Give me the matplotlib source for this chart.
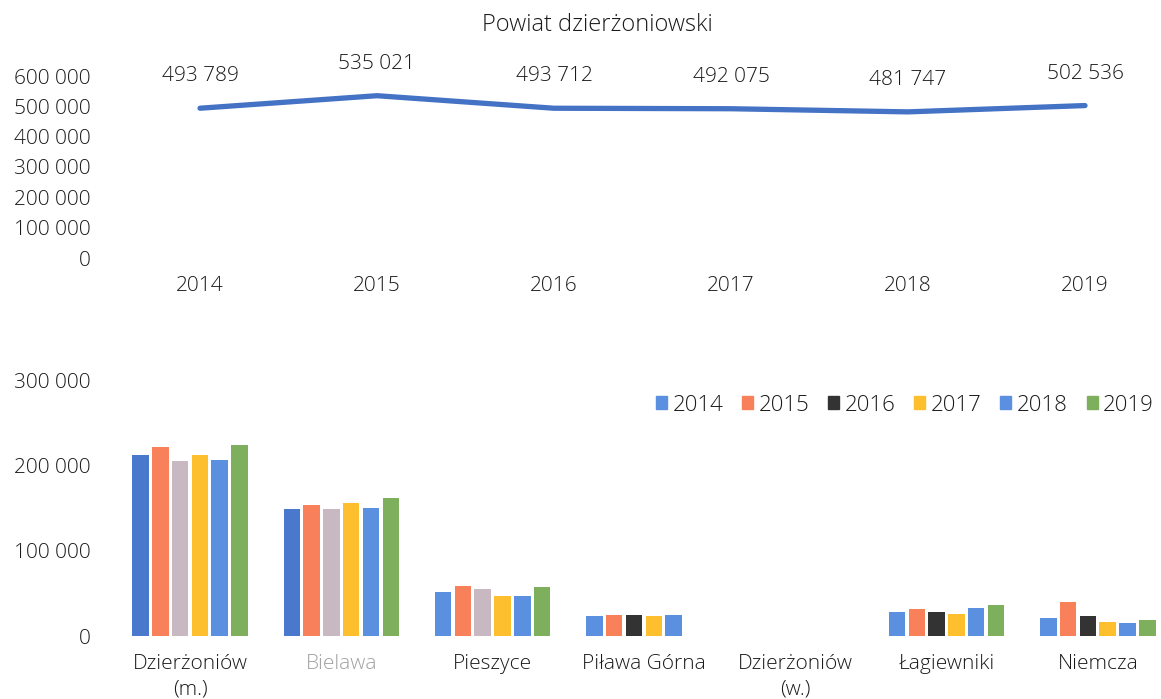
import numpy as np
import matplotlib
matplotlib.use("Agg")
import matplotlib.pyplot as plt
from matplotlib.ticker import FuncFormatter
from matplotlib.patches import Patch

plt.rcParams['font.family'] = ['Open Sans', 'DejaVu Sans']
plt.rcParams['font.weight'] = 'light'

# ---- data ----
title = "Powiat dzierżoniowski"
years = ["2014", "2015", "2016", "2017", "2018", "2019"]
powiat_total = [493789, 535021, 493712, 492075, 481747, 502536]

gminy = ["Dzierżoniów\n(m.)", "Bielawa", "Pieszyce", "Piława Górna",
         "Dzierżoniów\n(w.)", "Łagiewniki", "Niemcza"]
nan = np.nan
v2014 = [211800, 148400, 51300, 22900, nan, 28700, 20800]
v2015 = [220900, 153500, 58300, 24400, nan, 31400, 39300]
v2016 = [204700, 148400, 55500, 24400, nan, 28300, 23600]
v2017 = [212600, 155400, 47200, 22900, nan, 26300, 16900]
v2018 = [206700, 150300, 46500, 24800, nan, 32600, 15700]
v2019 = [224400, 161300, 57900, nan, nan, 36100, 19300]
series = [v2014, v2015, v2016, v2017, v2018, v2019]

# ---- styles ----
series_colors = ["#5B8FE0", "#F8805A", "#333333", "#FDBF2D", "#5B8FE0", "#7EAF5C"]
# scanned appearance: some bars rendered in slightly different tones
bar_colors = [
    ["#4A78CC", "#4A78CC", "#5B8FE0", "#5B8FE0", "#5B8FE0", "#5B8FE0", "#5B8FE0"],
    ["#F8805A"] * 7,
    ["#C8B8C2", "#C8B8C2", "#C8B8C2", "#333333", "#333333", "#333333", "#333333"],
    ["#FDBF2D"] * 7,
    ["#5B8FE0"] * 7,
    ["#7EAF5C"] * 7,
]
text_color = "#1A1A1A"
W, H = 1161, 699
fig = plt.figure(figsize=(W / 100, H / 100), dpi=100)

def fmt(v, pos=None):
    return f"{int(round(v)):,}".replace(",", " ")

# ---- top line chart ----
ax1 = fig.add_axes([100 / W, (H - 258) / H, 1 - 100 / W, 182 / H])
x1 = np.arange(len(years))
ax1.plot(x1, powiat_total, color="#4472C4", lw=3.8, solid_capstyle="round", clip_on=False)
for xi, v in zip(x1, powiat_total):
    ax1.annotate(fmt(v), (xi, v), xytext=(0, 23), textcoords="offset points",
                 ha="center", va="center", fontsize=15, color=text_color)
ax1.set_ylim(0, 600000)
ax1.set_yticks(np.arange(0, 600001, 100000))
ax1.yaxis.set_major_formatter(FuncFormatter(fmt))
ax1.set_xlim((100 - 200) / 177, (1161 - 200) / 177)
ax1.set_xticks(x1)
ax1.set_xticklabels(years)
ax1.tick_params(axis="both", length=0, labelsize=15, colors=text_color)
ax1.tick_params(axis="x", pad=13)
ax1.tick_params(axis="y", pad=7)
for s in ax1.spines.values():
    s.set_visible(False)
fig.text(597 / W, 1 - 25 / H, title, ha="center", va="center", fontsize=17, color=text_color)

# ---- bottom bar chart ----
ax2 = fig.add_axes([100 / W, (H - 636) / H, 1 - 100 / W, 256 / H])
xc = np.arange(len(gminy))
slot = 19.8 / 151.3
bw = 16.5 / 151.3
for i, (vals, cols) in enumerate(zip(series, bar_colors)):
    ax2.bar(xc + (i - 2.5) * slot, vals, width=bw, color=cols)
ax2.set_ylim(0, 300000)
ax2.set_yticks(np.arange(0, 300001, 100000))
ax2.yaxis.set_major_formatter(FuncFormatter(fmt))
ax2.set_xlim((100 - 190) / 151.3, (1161 - 190) / 151.3)
ax2.set_xticks(xc)
ax2.set_xticklabels(gminy, linespacing=1.35)
ax2.tick_params(axis="both", length=0, labelsize=15, colors=text_color)
ax2.tick_params(axis="x", pad=13)
ax2.tick_params(axis="y", pad=7)
ax2.get_xticklabels()[1].set_color("#A0A0A0")
for s in ax2.spines.values():
    s.set_visible(False)

handles = [Patch(color=c, label=y) for c, y in zip(series_colors, years)]
fig.legend(handles=handles, loc="center", bbox_to_anchor=(905 / W, 1 - 405 / H),
           ncol=6, frameon=False, fontsize=16, handlelength=0.5, handleheight=0.5,
           handletextpad=0.25, columnspacing=0.84, labelcolor=text_color,
           borderpad=0, borderaxespad=0)

fig.savefig("out.png", dpi=100)
